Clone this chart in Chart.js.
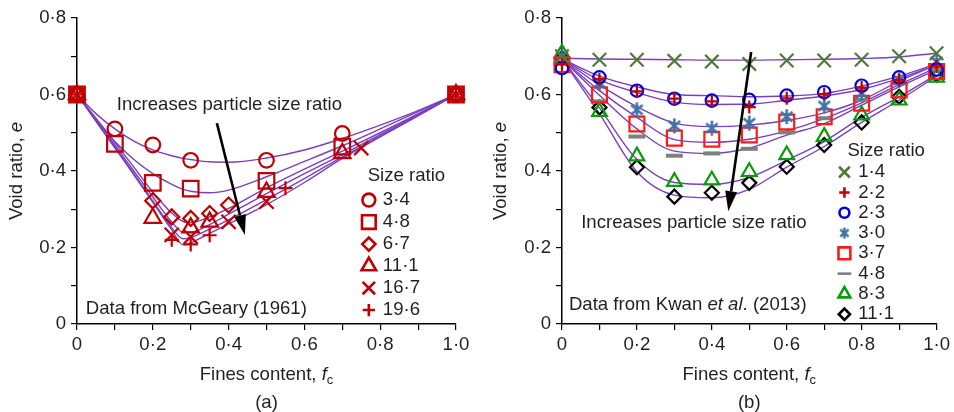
<!DOCTYPE html>
<html>
<head>
<meta charset="utf-8">
<script src="https://cdn.jsdelivr.net/npm/chart.js@4.4.0/dist/chart.umd.min.js"></script>
<style>
  body { margin: 0; background: #fff; }
  #wrap { position: relative; width: 954px; height: 412px; }
  .panel { position: absolute; top: 0; width: 477px; height: 412px; }
</style>
</head>
<body>
<div id="wrap">
  <div class="panel" style="left:0"><canvas id="chartA" width="477" height="412"></canvas></div>
  <div class="panel" style="left:477px"><canvas id="chartB" width="477" height="412"></canvas></div>
</div>
<script>
// ---- (a) Data from McGeary (1961) ----
const labelsA = ['3·4', '4·8', '6·7', '11·1', '16·7', '19·6'];
const fcA_34 = [0, 0.1, 0.2, 0.3, 0.5, 0.7, 1.0];
const eA_34 = [0.6, 0.51, 0.468, 0.428, 0.428, 0.498, 0.6];
const fcA_48 = [0, 0.1, 0.2, 0.3, 0.5, 0.7, 1.0];
const eA_48 = [0.6, 0.471, 0.369, 0.354, 0.374, 0.464, 0.6];
const fcA_67 = [0, 0.2, 0.25, 0.3, 0.35, 0.4, 1.0];
const eA_67 = [0.6, 0.322, 0.28, 0.276, 0.289, 0.311, 0.6];
const fcA_111 = [0, 0.2, 0.3, 0.35, 0.5, 0.7, 1.0];
const eA_111 = [0.6, 0.277, 0.252, 0.267, 0.345, 0.446, 0.6];
const fcA_167 = [0, 0.25, 0.3, 0.4, 0.5, 0.75, 1.0];
const eA_167 = [0.6, 0.233, 0.228, 0.267, 0.32, 0.46, 0.6];
const fcA_196 = [0, 0.25, 0.3, 0.35, 0.55, 1.0];
const eA_196 = [0.6, 0.22, 0.208, 0.232, 0.355, 0.6];

// fitted curves (a)
const curveFcA = [0, 0.05, 0.1, 0.15, 0.2, 0.25, 0.28, 0.3, 0.35, 0.4, 0.5, 0.6, 0.7, 0.8, 0.9, 1.0];
const curveA_34 = [0.6, 0.55, 0.51, 0.478, 0.455, 0.44, 0.433, 0.43, 0.424, 0.423, 0.434, 0.455, 0.485, 0.52, 0.558, 0.6];
const curveA_48 = [0.6, 0.535, 0.477, 0.43, 0.393, 0.365, 0.352, 0.347, 0.343, 0.35, 0.385, 0.425, 0.466, 0.51, 0.555, 0.6];
const curveA_67 = [0.6, 0.538, 0.475, 0.41, 0.345, 0.29, 0.268, 0.265, 0.28, 0.302, 0.356, 0.405, 0.452, 0.5, 0.55, 0.6];
const curveA_111 = [0.6, 0.535, 0.468, 0.4, 0.332, 0.267, 0.24, 0.24, 0.26, 0.287, 0.341, 0.393, 0.443, 0.495, 0.548, 0.6];
const curveA_167 = [0.6, 0.532, 0.463, 0.393, 0.322, 0.252, 0.223, 0.226, 0.248, 0.272, 0.325, 0.38, 0.437, 0.491, 0.546, 0.6];
const curveA_196 = [0.6, 0.53, 0.46, 0.39, 0.318, 0.246, 0.207, 0.212, 0.237, 0.262, 0.312, 0.37, 0.433, 0.489, 0.544, 0.6];

// ---- (b) Data from Kwan et al. (2013) ----
const labelsB = ['1·4', '2·2', '2·3', '3·0', '3·7', '4·8', '8·3', '11·1'];
const fcB = [0, 0.1, 0.2, 0.3, 0.4, 0.5, 0.6, 0.7, 0.8, 0.9, 1.0];
const eB_14 = [0.70, 0.691, 0.691, 0.688, 0.686, 0.68, 0.689, 0.689, 0.691, 0.70, 0.708];
const eB_22 = [0.68, 0.64, 0.608, 0.589, 0.582, 0.567, 0.59, 0.601, 0.618, 0.638, 0.673];
const eB_23 = [0.669, 0.645, 0.61, 0.589, 0.584, 0.586, 0.597, 0.606, 0.623, 0.645, 0.665];
const eB_30 = [0.70, 0.63, 0.56, 0.518, 0.512, 0.525, 0.542, 0.57, 0.603, 0.638, 0.686];
const eB_37 = [0.678, 0.599, 0.523, 0.486, 0.483, 0.494, 0.528, 0.542, 0.577, 0.612, 0.66];
const eB_48 = [0.68, 0.582, 0.49, 0.44, 0.446, 0.458, 0.501, 0.538, 0.586, 0.63, 0.665];
const eB_83 = [0.708, 0.555, 0.439, 0.372, 0.376, 0.398, 0.442, 0.49, 0.546, 0.585, 0.645];
const eB_111 = [0.695, 0.566, 0.41, 0.333, 0.343, 0.369, 0.411, 0.468, 0.527, 0.594, 0.652];

// fitted curves (b)
const curveB_14 = [0.695, 0.693, 0.692, 0.691, 0.69, 0.69, 0.691, 0.692, 0.694, 0.698, 0.708];
const curveB_22 = [0.693, 0.638, 0.605, 0.58, 0.574, 0.575, 0.585, 0.596, 0.613, 0.642, 0.677];
const curveB_23 = [0.693, 0.648, 0.62, 0.6, 0.597, 0.594, 0.596, 0.603, 0.622, 0.648, 0.68];
const curveB_30 = [0.693, 0.625, 0.568, 0.525, 0.516, 0.52, 0.532, 0.552, 0.585, 0.635, 0.678];
const curveB_37 = [0.693, 0.61, 0.54, 0.482, 0.475, 0.483, 0.505, 0.537, 0.578, 0.626, 0.67];
const curveB_48 = [0.693, 0.598, 0.51, 0.452, 0.446, 0.46, 0.494, 0.524, 0.572, 0.62, 0.665];
const curveB_83 = [0.693, 0.565, 0.43, 0.37, 0.365, 0.383, 0.428, 0.477, 0.54, 0.594, 0.652];
const curveB_111 = [0.693, 0.55, 0.398, 0.337, 0.33, 0.352, 0.41, 0.464, 0.527, 0.585, 0.648];

const FONT = '"Liberation Sans", Arial, sans-serif';
const FS = 18.6;
const TEXT = '#231f20';
const PURPLE = '#7a40bd';
const RED_A = '#c00000';

function xy(xs, ys) { return xs.map((x, i) => ({ x: x, y: ys[i] })); }

// asterisk marker (X with a vertical bar)
function asterisk(size, color, lw) {
  const c = document.createElement('canvas');
  c.width = c.height = size;
  const g = c.getContext('2d');
  g.strokeStyle = color; g.lineWidth = lw;
  const m = size / 2, r = size / 2 - 1;
  g.beginPath();
  [90, 40, 140].forEach(a => {
    const t = a * Math.PI / 180;
    g.moveTo(m - r * Math.cos(t), m - r * Math.sin(t));
    g.lineTo(m + r * Math.cos(t), m + r * Math.sin(t));
  });
  g.stroke();
  return c;
}

function markerSet(points, st) {
  return {
    data: points, showLine: false, clip: false, order: 1,
    pointStyle: st.style, pointRadius: st.r, pointHoverRadius: st.r,
    borderColor: st.color, pointBorderColor: st.color,
    backgroundColor: 'rgba(0,0,0,0)', pointBackgroundColor: 'rgba(0,0,0,0)',
    borderWidth: st.w || 2.2, pointBorderWidth: st.w || 2.2
  };
}
function curveSet(points) {
  return {
    data: points, showLine: true, pointRadius: 0, pointHoverRadius: 0, clip: false, order: 2,
    borderColor: PURPLE, borderWidth: 1.4, cubicInterpolationMode: 'monotone', fill: false
  };
}

function fmt(v) {
  const k = Math.round(v * 10);
  if (k % 2) return '';
  return k === 0 ? '0' : (k / 10).toFixed(1).replace('.', '·');
}

function richText(ctx, parts, x, y, align, size) {
  const fontOf = p => (p.it ? 'italic ' : '') + (p.sub ? Math.round(size * 0.72) : size) + 'px ' + FONT;
  let w = 0;
  parts.forEach(p => { ctx.font = fontOf(p); w += ctx.measureText(p.t).width; });
  let cx = align === 'center' ? x - w / 2 : x;
  ctx.textAlign = 'left';
  ctx.textBaseline = 'middle';
  parts.forEach(p => {
    ctx.font = fontOf(p);
    ctx.fillText(p.t, cx, y + (p.sub ? size * 0.3 : 0));
    cx += ctx.measureText(p.t).width;
  });
}

function overlay(spec) {
  return {
    id: 'overlay',
    afterDraw(chart) {
      const ctx = chart.ctx, sx = chart.scales.x, sy = chart.scales.y;
      const px = v => sx.getPixelForValue(v), py = v => sy.getPixelForValue(v);
      const ca = chart.chartArea;
      const midX = (ca.left + ca.right) / 2;
      ctx.save();
      ctx.fillStyle = TEXT;
      // axis titles and panel label
      richText(ctx, [{ t: 'Fines content, ' }, { t: 'f', it: true }, { t: 'c', sub: true }], midX, 375, 'center', FS);
      richText(ctx, [{ t: spec.panel }], midX, 403, 'center', FS);
      ctx.save();
      ctx.translate(spec.yTitleX, (ca.top + ca.bottom) / 2);
      ctx.rotate(-Math.PI / 2);
      richText(ctx, [{ t: 'Void ratio, ' }, { t: 'e', it: true }], 0, 0, 'center', FS);
      ctx.restore();
      // notes
      richText(ctx, spec.source, px(spec.sourceAt[0]), py(spec.sourceAt[1]), 'left', FS);
      richText(ctx, [{ t: 'Increases particle size ratio' }], px(spec.noteAt[0]), py(spec.noteAt[1]), 'center', FS);
      // arrow
      const x1 = px(spec.arrow[0]), y1 = py(spec.arrow[1]), x2 = px(spec.arrow[2]), y2 = py(spec.arrow[3]);
      const ang = Math.atan2(y2 - y1, x2 - x1), hl = 20, hw = 6;
      const bx = x2 - hl * Math.cos(ang), by = y2 - hl * Math.sin(ang);
      ctx.strokeStyle = '#000'; ctx.fillStyle = '#000'; ctx.lineWidth = 2.6;
      ctx.beginPath(); ctx.moveTo(x1, y1); ctx.lineTo(bx, by); ctx.stroke();
      ctx.beginPath();
      ctx.moveTo(x2, y2);
      ctx.lineTo(bx + hw * Math.sin(ang), by - hw * Math.cos(ang));
      ctx.lineTo(bx - hw * Math.sin(ang), by + hw * Math.cos(ang));
      ctx.closePath(); ctx.fill();
      // legend
      const lg = spec.legend;
      ctx.fillStyle = TEXT;
      richText(ctx, [{ t: 'Size ratio' }], px(lg.titleAt[0]), py(lg.titleAt[1]), 'left', FS);
      lg.labels.forEach((lab, i) => {
        const y = py(lg.firstY) + i * lg.step;
        const st = lg.styles[i];
        ctx.save();
        ctx.strokeStyle = st.color; ctx.fillStyle = 'rgba(0,0,0,0)';
        Chart.helpers.drawPoint(ctx, { pointStyle: st.style, radius: st.r * lg.scale, borderWidth: st.w || 2.2, rotation: 0 }, px(lg.markX), y);
        ctx.restore();
        ctx.fillStyle = TEXT;
        richText(ctx, [{ t: lab }], px(lg.textX), y, 'left', FS);
      });
      ctx.restore();
    }
  };
}

function baseOptions(yWidth, padRight) {
  const tickFont = { family: FONT, size: FS };
  const grid = { drawOnChartArea: false, drawTicks: true, tickLength: 6, color: '#000', lineWidth: 1.2 };
  return {
    responsive: false, animation: false, events: [],
    layout: { padding: { left: 0, right: padRight, top: 18, bottom: 0 } },
    plugins: { legend: { display: false }, tooltip: { enabled: false } },
    scales: {
      x: {
        type: 'linear', min: 0, max: 1,
        afterFit: s => { s.height = 88; },
        ticks: { stepSize: 0.1, autoSkip: false, maxRotation: 0, padding: 4, color: TEXT, font: tickFont, callback: fmt },
        grid: grid, border: { color: '#000', width: 1.5 }
      },
      y: {
        type: 'linear', min: 0, max: 0.8,
        afterFit: s => { s.width = yWidth; },
        ticks: { stepSize: 0.1, autoSkip: false, padding: 5, color: TEXT, font: tickFont, callback: fmt },
        grid: grid, border: { color: '#000', width: 1.5 }
      }
    }
  };
}

// ---- chart (a) ----
const stylesA = [
  { style: 'circle', r: 7.3, color: RED_A },
  { style: 'rect', r: 11, color: RED_A },
  { style: 'rectRot', r: 7.5, color: RED_A },
  { style: 'triangle', r: 9.5, color: RED_A },
  { style: 'crossRot', r: 10, color: RED_A },
  { style: 'cross', r: 7, color: RED_A }
];
const pointsA = [xy(fcA_34, eA_34), xy(fcA_48, eA_48), xy(fcA_67, eA_67), xy(fcA_111, eA_111), xy(fcA_167, eA_167), xy(fcA_196, eA_196)];
const curvesA = [curveA_34, curveA_48, curveA_67, curveA_111, curveA_167, curveA_196];

new Chart(document.getElementById('chartA'), {
  type: 'scatter',
  data: {
    datasets: curvesA.map(c => curveSet(xy(curveFcA, c)))
      .concat(pointsA.map((p, i) => markerSet(p, stylesA[i])))
  },
  options: baseOptions(77, 21),
  plugins: [overlay({
    panel: '(a)', yTitleX: 17,
    source: [{ t: 'Data from McGeary (1961)' }], sourceAt: [0.023, 0.039],
    noteAt: [0.402, 0.573], arrow: [0.369, 0.525, 0.443, 0.233],
    legend: { titleAt: [0.767, 0.387], markX: 0.77, textX: 0.807, firstY: 0.324, step: 22, scale: 0.88, labels: labelsA, styles: stylesA }
  })]
});

// ---- chart (b) ----
const stylesB = [
  { style: 'crossRot', r: 9.5, color: '#4f7a38' },
  { style: 'cross', r: 6.5, color: '#c00000' },
  { style: 'circle', r: 6.2, color: '#0000dd' },
  { style: asterisk(17, '#3d72a8', 2.5), r: 8, color: '#3d72a8', legendStyle: asterisk(13, '#3d72a8', 2.4) },
  { style: 'rect', r: 10.5, color: '#ff1a1a' },
  { style: 'line', r: 8.5, color: '#7f7f7f', w: 4 },
  { style: 'triangle', r: 8.5, color: '#0a9a0a' },
  { style: 'rectRot', r: 7, color: '#000000' }
];
const marksB = [eB_14, eB_22, eB_23, eB_30, eB_37, eB_48, eB_83, eB_111];
const curvesB = [curveB_14, curveB_22, curveB_23, curveB_30, curveB_37, curveB_48, curveB_83, curveB_111];
const legendStylesB = stylesB.map(s => Object.assign({}, s, { style: s.legendStyle || s.style, w: s.w ? 3.5 : 2.2 }));

new Chart(document.getElementById('chartB'), {
  type: 'scatter',
  data: {
    datasets: curvesB.map(c => curveSet(xy(fcB, c)))
      .concat(marksB.map((m, i) => markerSet(xy(fcB, m), stylesB[i])))
  },
  options: baseOptions(85, 14),
  plugins: [overlay({
    panel: '(b)', yTitleX: 24,
    source: [{ t: 'Data from Kwan ' }, { t: 'et al', it: true }, { t: '. (2013)' }], sourceAt: [0.0185, 0.05],
    noteAt: [0.352, 0.264], arrow: [0.505, 0.711, 0.444, 0.295],
    legend: { titleAt: [0.762, 0.452], markX: 0.754, textX: 0.791, firstY: 0.397, step: 20.3, scale: 0.8, labels: labelsB, styles: legendStylesB }
  })]
});
</script>
</body>
</html>
